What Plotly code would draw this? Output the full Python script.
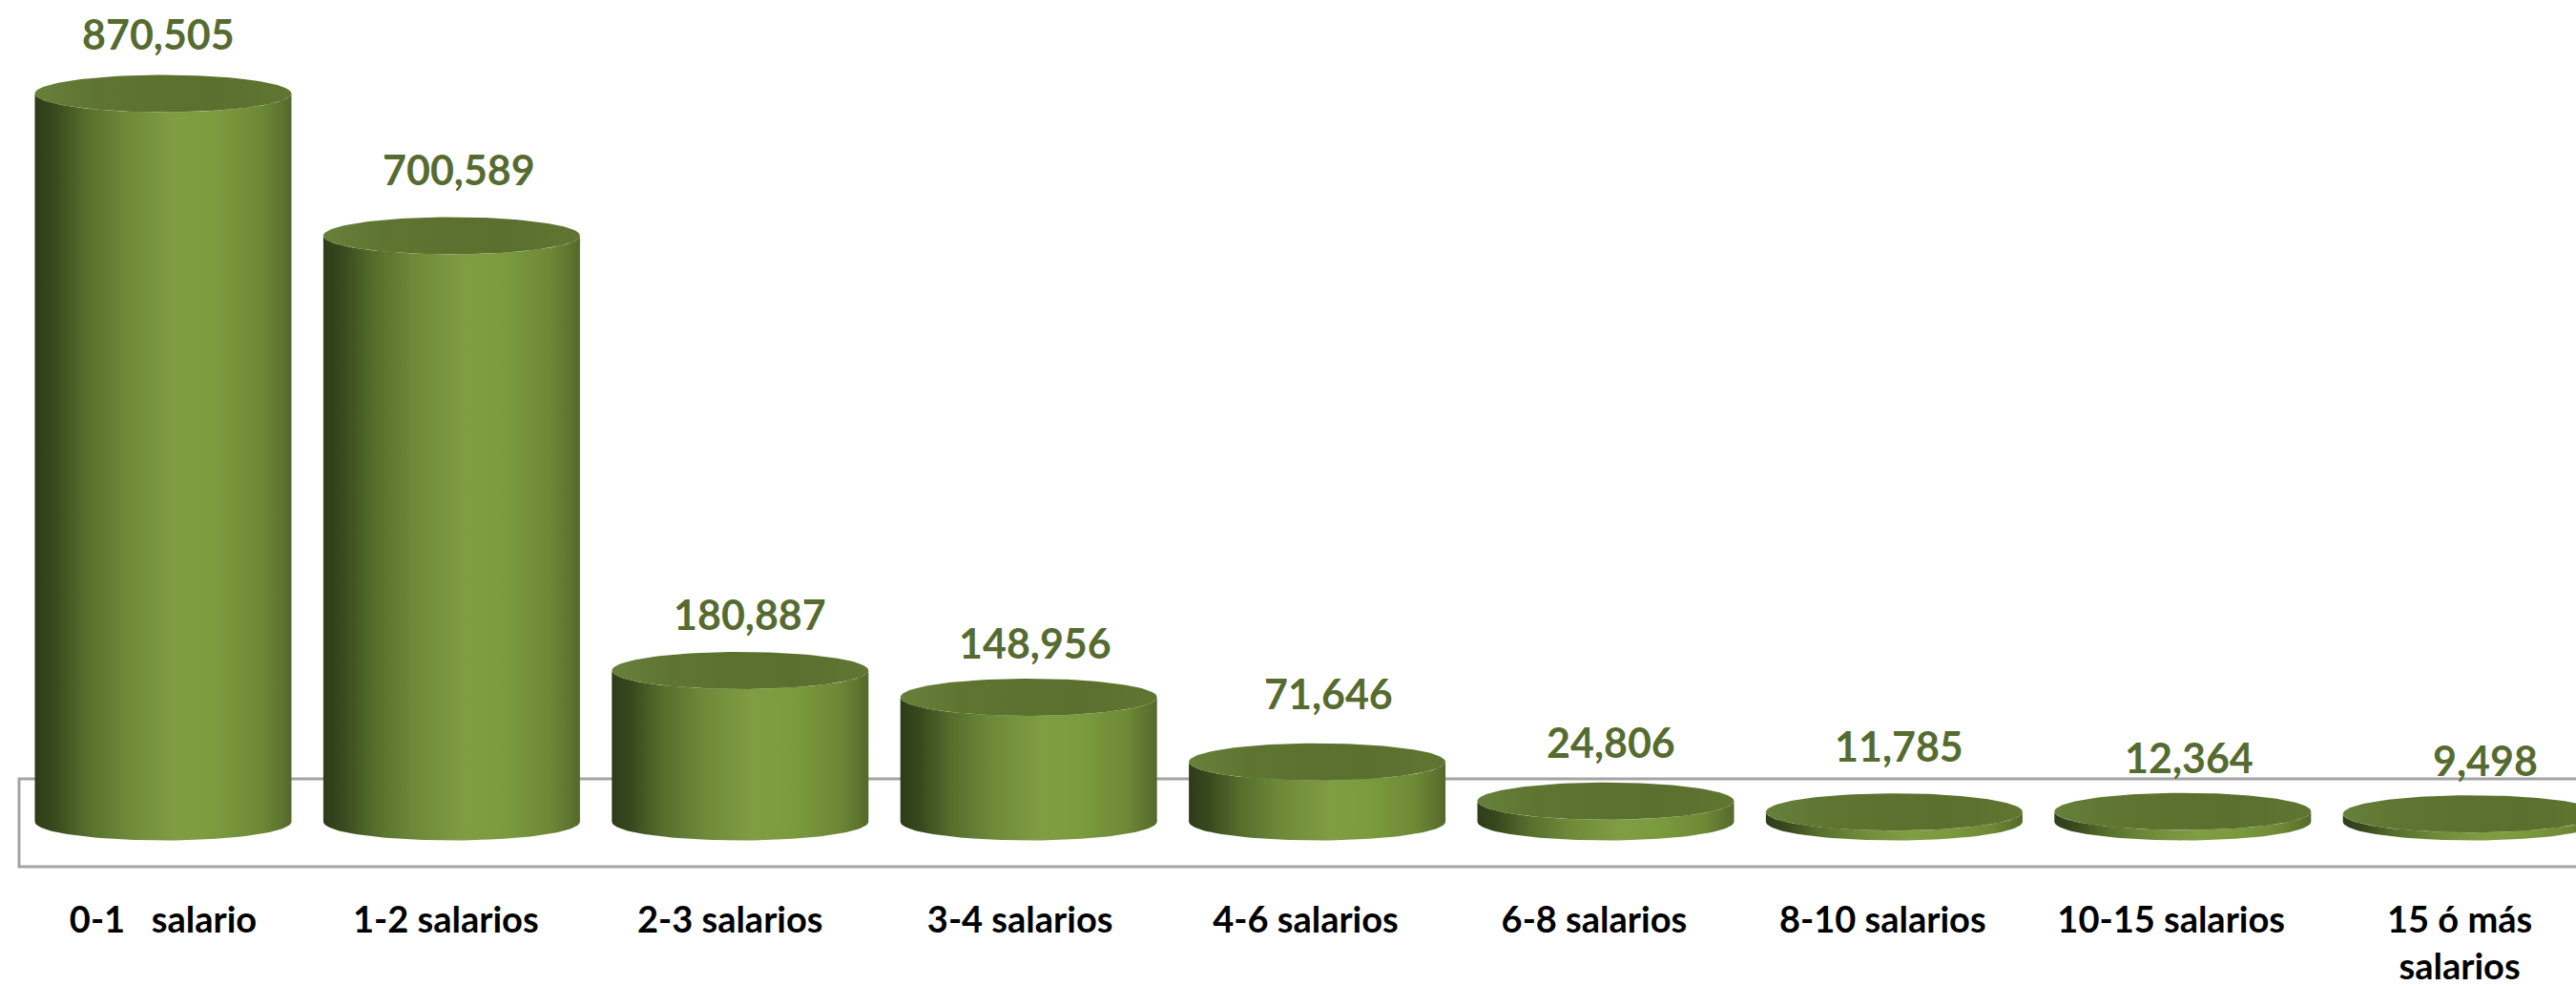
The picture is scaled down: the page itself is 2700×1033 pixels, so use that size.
import numpy as np
import plotly.graph_objects as go

categories = ["0-1   salario", "1-2 salarios", "2-3 salarios", "3-4 salarios", "4-6 salarios",
              "6-8 salarios", "8-10 salarios", "10-15 salarios", "15 ó más<br>salarios"]
values = [870505, 700589, 180887, 148956, 71646, 24806, 11785, 12364, 9498]

# styling / hand-placed label offsets (pixels) as in the source picture
label_dy = [63, 69, 59, 57, 72, 62, 69, 57, 56]
label_dx = [-5, 8, 10, 7, 12, 5, 5, 7, 15]
tick_dx = [0, -0.02, -0.035, -0.03, -0.04, -0.04, -0.04, -0.04, -0.04]

W, H_TOTAL = 2700, 1033
MB = 100
H = H_TOTAL - MB
K = 763 / 870505          # pixels per unit
BASE_PX = 861
PITCH = 302.4
CX0 = 171
HALF = 134.5 / PITCH
RY = 19.5 / K

yr = [-(H - BASE_PX) / K, BASE_PX / K]
xr = [-CX0 / PITCH, (W - CX0) / PITCH]

body_scale = [[0, "#2E3B19"], [0.08, "#394A1E"], [0.2, "#566E2C"], [0.36, "#6E8A39"],
              [0.55, "#7F9D43"], [0.7, "#7C9B3F"], [0.88, "#6E8936"], [1, "#55692B"]]
top_scale = [[0, "#66803A"], [0.25, "#5E7430"], [0.7, "#5B6F2E"], [1, "#5F7631"]]

t = np.linspace(0, np.pi, 80)
fig = go.Figure()

for i, v in enumerate(values):
    xl, xr_i = i - HALF, i + HALF
    bx = i - HALF * np.cos(t)
    by_bot = -RY * np.sin(t)
    by_top = v - RY * np.sin(t)
    px = np.concatenate([bx, bx[::-1], [bx[0]]])
    py = np.concatenate([by_bot, by_top[::-1], [by_bot[0]]])
    fig.add_trace(go.Scatter(
        x=px, y=py, mode="lines", line=dict(width=0), fill="toself",
        fillgradient=dict(type="horizontal", colorscale=body_scale, start=xl, stop=xr_i),
        hoverinfo="skip", showlegend=False))
    a = np.linspace(0, 2 * np.pi, 160)
    fig.add_trace(go.Scatter(
        x=i + HALF * np.cos(a), y=v + RY * np.sin(a), mode="lines", line=dict(width=0),
        fill="toself",
        fillgradient=dict(type="horizontal", colorscale=top_scale, start=xl, stop=xr_i),
        hoverinfo="skip", showlegend=False))
    fig.add_annotation(x=i, y=v, text=f"{v:,}", showarrow=False, xanchor="center", yanchor="middle",
                       xshift=label_dx[i], yshift=label_dy[i],
                       font=dict(family="Lato", size=43, color="#556B2F", weight="bold"))

fig.add_shape(type="rect", layer="below", xref="x", yref="y",
              x0=(20 - CX0) / PITCH, x1=(2800 - CX0) / PITCH,
              y0=-47 / K, y1=45 / K, line=dict(color="#A3A3A3", width=3), fillcolor="white")

fig.update_layout(
    width=W, height=H_TOTAL, paper_bgcolor="white", plot_bgcolor="white", showlegend=False,
    margin=dict(l=0, r=0, t=0, b=MB, pad=0, autoexpand=False),
    xaxis=dict(range=xr, tickmode="array", tickvals=[i + d for i, d in enumerate(tick_dx)],
               ticktext=categories, tickangle=0, showgrid=False, zeroline=False, showline=False,
               ticks="", ticklabelstandoff=5,
               tickfont=dict(family="Lato", size=38, color="black", weight="bold")),
    yaxis=dict(range=yr, visible=False, showgrid=False, zeroline=False),
)
fig.write_html("out.html", config={"displayModeBar": False},
               post_script="document.body.style.margin='0';document.body.style.overflow='hidden';")
